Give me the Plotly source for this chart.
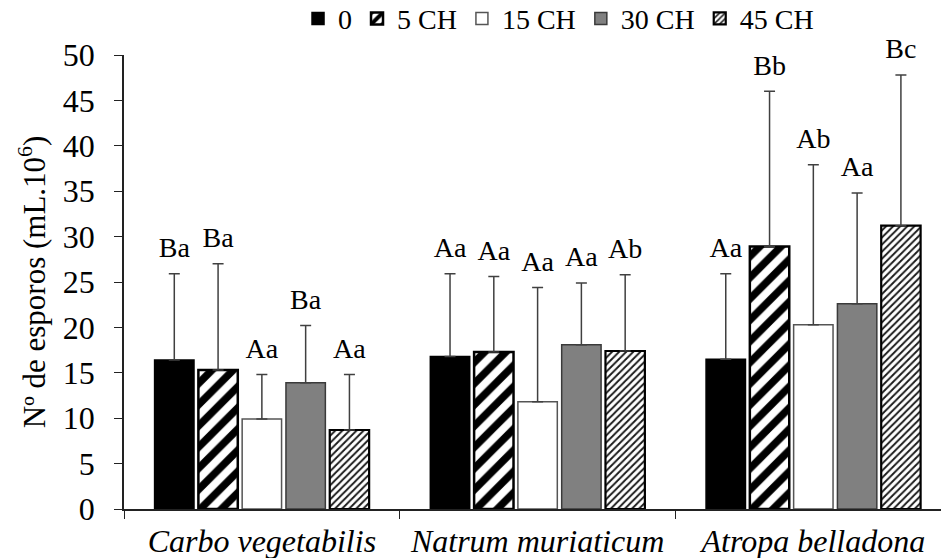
import plotly.graph_objects as go

categories = ["Carbo vegetabilis", "Natrum muriaticum", "Atropa belladona"]
series_names = ["0", "5 CH", "15 CH", "30 CH", "45 CH"]

mean_0 = [16.4, 16.8, 16.5]
mean_5 = [15.3, 17.3, 28.9]
mean_15 = [9.9, 11.8, 20.3]
mean_30 = [13.9, 18.1, 22.6]
mean_45 = [8.7, 17.4, 31.2]

err_0 = [9.5, 9.1, 9.4]
err_5 = [11.7, 8.3, 17.1]
err_15 = [4.9, 12.6, 17.6]
err_30 = [6.3, 6.8, 12.2]
err_45 = [6.1, 8.4, 16.6]

lab_0 = ["Ba", "Aa", "Aa"]
lab_5 = ["Ba", "Aa", "Bb"]
lab_15 = ["Aa", "Aa", "Ab"]
lab_30 = ["Ba", "Aa", "Aa"]
lab_45 = ["Aa", "Ab", "Bc"]

means = [mean_0, mean_5, mean_15, mean_30, mean_45]
errs = [err_0, err_5, err_15, err_30, err_45]
labs = [lab_0, lab_5, lab_15, lab_30, lab_45]

FONT = "Liberation Serif"

styles = [
    dict(color="black", line=dict(color="black", width=1.5)),
    dict(color="white", line=dict(color="black", width=2.5),
         pattern=dict(shape="/", size=15, solidity=0.5, fgcolor="black", fgopacity=1,
                      bgcolor="white")),
    dict(color="white", line=dict(color="#555555", width=1.5)),
    dict(color="#808080", line=dict(color="#3a3a3a", width=1.5)),
    dict(color="white", line=dict(color="black", width=2.2),
         pattern=dict(shape="/", size=5, solidity=0.38, fgcolor="#1a1a1a", fgopacity=1,
                      bgcolor="white")),
]

fig = go.Figure()
for name, m, e, st in zip(series_names, means, errs, styles):
    fig.add_trace(go.Bar(
        x=categories, y=m, name=name, marker=st,
        offsetgroup=name, alignmentgroup="g",
        error_y=dict(type="data", array=e, arrayminus=[0] * len(e), symmetric=False,
                     color="#404040", thickness=1.5, width=5.5),
    ))

for name, m, e, lb in zip(series_names, means, errs, labs):
    fig.add_trace(go.Scatter(
        x=categories, y=[a + b for a, b in zip(m, e)], text=lb, mode="markers+text",
        marker=dict(size=14, opacity=0),
        textposition="top center", offsetgroup=name, alignmentgroup="g",
        textfont=dict(family=FONT, size=28, color="black"),
        showlegend=False, hoverinfo="skip", cliponaxis=False,
    ))

fig.update_layout(
    width=941, height=558,
    margin=dict(l=124, r=0, t=55, b=49, autoexpand=False),
    paper_bgcolor="white", plot_bgcolor="white",
    barmode="group", bargap=0.206, bargroupgap=0.1,
    scattermode="group", scattergap=0.206,
    font=dict(family=FONT, color="black"),
    legend=dict(orientation="h", x=0.213, xanchor="left", y=1.135, yanchor="top",
                font=dict(family=FONT, size=28, color="black"),
                itemwidth=30, bgcolor="rgba(0,0,0,0)"),
    showlegend=True,
)
fig.update_xaxes(
    range=[-0.5, 2.463], showline=True, linecolor="#222222", linewidth=1.5,
    ticks="outside", tickson="boundaries", ticklen=8, tickcolor="#222222",
    tickfont=dict(family=FONT, size=32, style="italic", color="black"),
    ticklabelstandoff=3,
    showgrid=False, zeroline=False,
)
fig.update_yaxes(
    range=[0, 50], dtick=5, showline=True, linecolor="#222222", linewidth=1.5,
    ticks="outside", ticklen=8, tickcolor="#222222",
    tickfont=dict(family=FONT, size=32, color="black"),
    ticklabelstandoff=13,
    showgrid=False, zeroline=False,
    title=dict(text="Nº de esporos (mL.10<sup>6</sup>)", font=dict(family=FONT, size=31),
               standoff=8),
)

fig.write_html("out.html", config={"displayModeBar": False},
               post_script="document.body.style.margin='0';")
